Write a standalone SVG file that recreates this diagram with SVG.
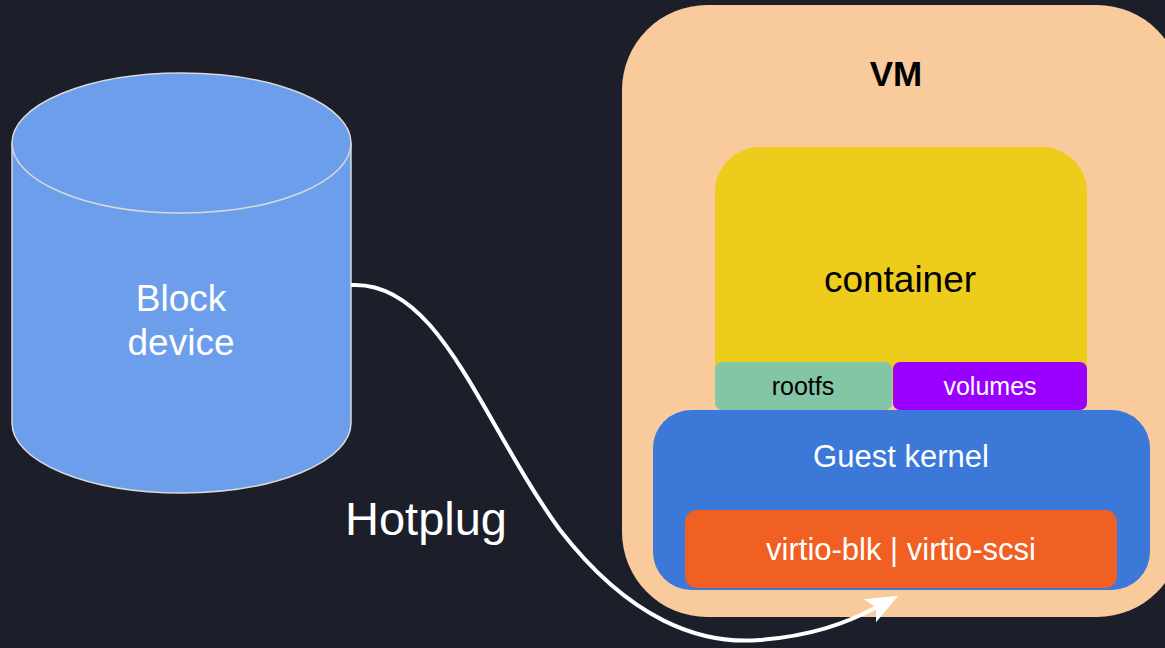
<svg xmlns="http://www.w3.org/2000/svg" width="1165" height="648" viewBox="0 0 1165 648">
<style>
.t{font-family:"Liberation Sans",Arial,sans-serif;text-anchor:middle}
.w{fill:#ffffff}
.k{fill:#000000}
</style>
<defs>
<marker id="ah" markerWidth="32" markerHeight="28" refX="8" refY="13" orient="auto" markerUnits="userSpaceOnUse" viewBox="0 0 32 26">
<path d="M0,0 L32,13 L0,26 L7,13 z" fill="#ffffff"/>
</marker>
</defs>
<rect x="0" y="0" width="1165" height="648" fill="#1C1F2A"/>
<g id="block-device">
<path d="M12,143 L12,423 A169.5,70 0 0 0 351,423 L351,143" fill="#6D9EEB" stroke="#D9D9D9" stroke-width="1.5"/>
<ellipse cx="181.5" cy="143" rx="169.5" ry="70" fill="#6D9EEB" stroke="#D9D9D9" stroke-width="1.5"/>
<text class="t w" x="181" y="311" font-size="37">Block</text>
<text class="t w" x="181" y="355" font-size="37">device</text>
</g>
<g id="vm">
<rect x="622" y="5" width="560" height="612" rx="85" fill="#F9CB9C"/>
<text class="t k" x="896" y="86" font-size="35" font-weight="bold">VM</text>
</g>
<g id="container">
<path d="M715,400 L715,192 A45,45 0 0 1 760,147 L1042,147 A45,45 0 0 1 1087,192 L1087,400 z" fill="#EECC1C"/>
<text class="t k" x="900" y="292" font-size="37">container</text>
</g>
<g id="rootfs">
<rect x="715" y="362" width="177" height="48" rx="7" fill="#82C6A6"/>
<text class="t k" x="803" y="395" font-size="25">rootfs</text>
</g>
<g id="volumes">
<rect x="893" y="362" width="194" height="48" rx="7" fill="#9900FF"/>
<text class="t w" x="990" y="395" font-size="25">volumes</text>
</g>
<g id="guest-kernel">
<rect x="653" y="410" width="497" height="180" rx="38" fill="#3C78D8"/>
<text class="t w" x="901" y="467" font-size="31">Guest kernel</text>
</g>
<g id="virtio">
<rect x="685" y="510" width="432" height="78" rx="12" fill="#F06022"/>
<text class="t w" x="901" y="560" font-size="31">virtio-blk | virtio-scsi</text>
</g>
<g id="connectors">
<path d="M351,285 C440,280 480,420 560,530 C630,620 700,645 760,640 C810,636 845,624 877,607" fill="none" stroke="#ffffff" stroke-width="4" marker-end="url(#ah)"/>
</g>
<text class="t w" x="426" y="535" font-size="47">Hotplug</text>
</svg>
